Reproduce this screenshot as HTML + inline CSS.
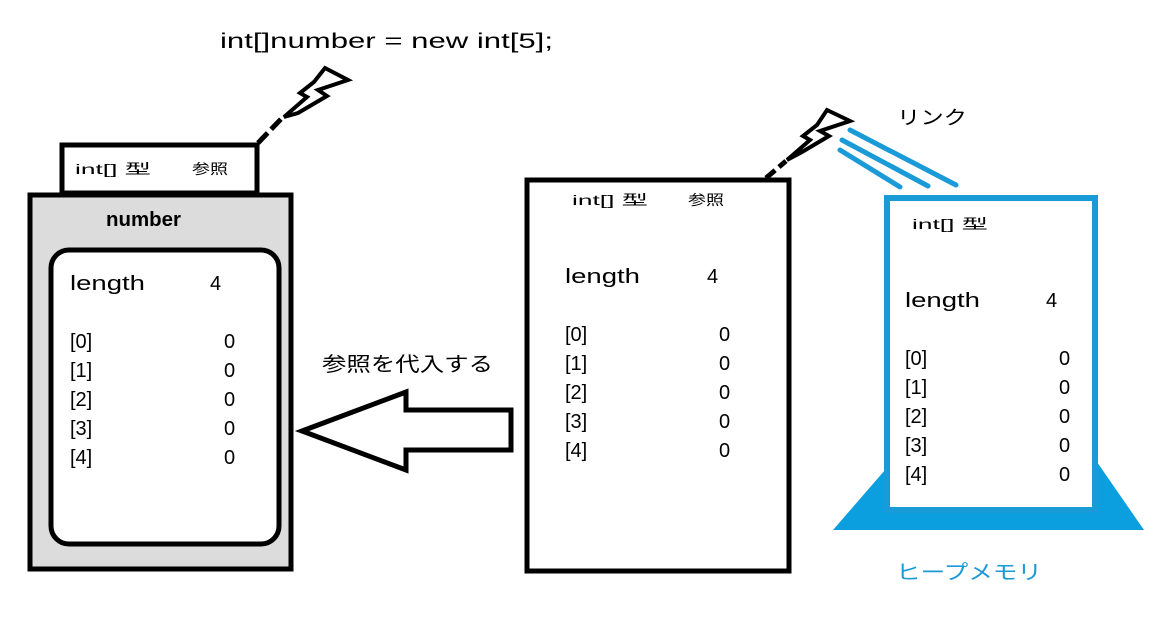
<!DOCTYPE html>
<html><head><meta charset="utf-8"><style>
html,body{margin:0;padding:0;background:#fff;width:1169px;height:624px;overflow:hidden}
svg text{font-family:"Liberation Sans","Noto Sans CJK JP",sans-serif;fill:#000}
</style></head><body>
<svg width="1169" height="624" viewBox="0 0 1169 624" xmlns="http://www.w3.org/2000/svg">
<text x="220" y="48" font-size="21" textLength="333" lengthAdjust="spacingAndGlyphs">int[]number = new int[5];</text>
<path d="M258,143 L282,118" stroke="#000" stroke-width="5" fill="none" stroke-dasharray="14,5"/>
<path d="M284,117 L307,97 L300,93 L314,82 L325,68 L348,80 L318,90 L327,96 L298,113 Z" fill="#fff" stroke="#000" stroke-width="4"/>
<rect x="62" y="145" width="195" height="48" fill="#fff" stroke="#000" stroke-width="5"/>
<text x="75" y="174" font-size="14" textLength="76" lengthAdjust="spacingAndGlyphs">int[] 型</text>
<text x="192" y="174" font-size="14" textLength="36" lengthAdjust="spacingAndGlyphs">参照</text>
<rect x="30" y="195" width="261" height="374" fill="#dcdcdc" stroke="#000" stroke-width="5"/>
<text x="106" y="226" font-size="20" font-weight="bold" textLength="75" lengthAdjust="spacingAndGlyphs">number</text>
<rect x="51" y="250" width="228" height="294" rx="18" fill="#fff" stroke="#000" stroke-width="5"/>
<g font-size="20">
<text x="70" y="290" textLength="75" lengthAdjust="spacingAndGlyphs">length</text><text x="210" y="290">4</text>
<text x="70" y="348">[0]</text><text x="224" y="348">0</text>
<text x="70" y="377">[1]</text><text x="224" y="377">0</text>
<text x="70" y="406">[2]</text><text x="224" y="406">0</text>
<text x="70" y="435">[3]</text><text x="224" y="435">0</text>
<text x="70" y="464">[4]</text><text x="224" y="464">0</text>
</g>
<text x="322" y="371" font-size="20" textLength="171" lengthAdjust="spacingAndGlyphs">参照を代入する</text>
<path d="M302,431 L406,392 L406,410 L511,410 L511,450 L406,450 L406,470 Z" fill="#fff" stroke="#000" stroke-width="5"/>
<rect x="527" y="180" width="262" height="391" fill="#fff" stroke="#000" stroke-width="5"/>
<text x="572" y="205" font-size="14" textLength="76" lengthAdjust="spacingAndGlyphs">int[] 型</text>
<text x="688" y="205" font-size="14" textLength="36" lengthAdjust="spacingAndGlyphs">参照</text>
<g font-size="20">
<text x="565" y="283" textLength="75" lengthAdjust="spacingAndGlyphs">length</text><text x="707" y="283">4</text>
<text x="565" y="341">[0]</text><text x="719" y="341">0</text>
<text x="565" y="370">[1]</text><text x="719" y="370">0</text>
<text x="565" y="399">[2]</text><text x="719" y="399">0</text>
<text x="565" y="428">[3]</text><text x="719" y="428">0</text>
<text x="565" y="457">[4]</text><text x="719" y="457">0</text>
</g>
<path d="M766,178 L786,161" stroke="#000" stroke-width="5" fill="none" stroke-dasharray="12,5"/>
<path d="M787,160 L810,140 L803,136 L817,125 L827,110 L850,121 L820,131 L829,136 L802,152 Z" fill="#fff" stroke="#000" stroke-width="4"/>
<g stroke="#1a9ad6" stroke-width="5" stroke-linecap="round">
<line x1="850" y1="130" x2="956" y2="185"/>
<line x1="842" y1="140" x2="928" y2="186"/>
<line x1="840" y1="150" x2="900" y2="187"/>
</g>
<text x="897" y="124" font-size="19" textLength="70" lengthAdjust="spacingAndGlyphs">リンク</text>
<polygon points="885,470 1097,462 1144,530 833,530" fill="#0b9fe0"/>
<rect x="887" y="198" width="208" height="312" fill="#fff" stroke="#1a9ad6" stroke-width="6"/>
<text x="912" y="229" font-size="14" textLength="76" lengthAdjust="spacingAndGlyphs">int[] 型</text>
<g font-size="20">
<text x="905" y="307" textLength="75" lengthAdjust="spacingAndGlyphs">length</text><text x="1046" y="307">4</text>
<text x="905" y="365">[0]</text><text x="1059" y="365">0</text>
<text x="905" y="394">[1]</text><text x="1059" y="394">0</text>
<text x="905" y="423">[2]</text><text x="1059" y="423">0</text>
<text x="905" y="452">[3]</text><text x="1059" y="452">0</text>
<text x="905" y="481">[4]</text><text x="1059" y="481">0</text>
</g>
<text x="896" y="579" font-size="20" textLength="146" lengthAdjust="spacingAndGlyphs" style="fill:#1a9ad6">ヒープメモリ</text>
</svg>
</body></html>
